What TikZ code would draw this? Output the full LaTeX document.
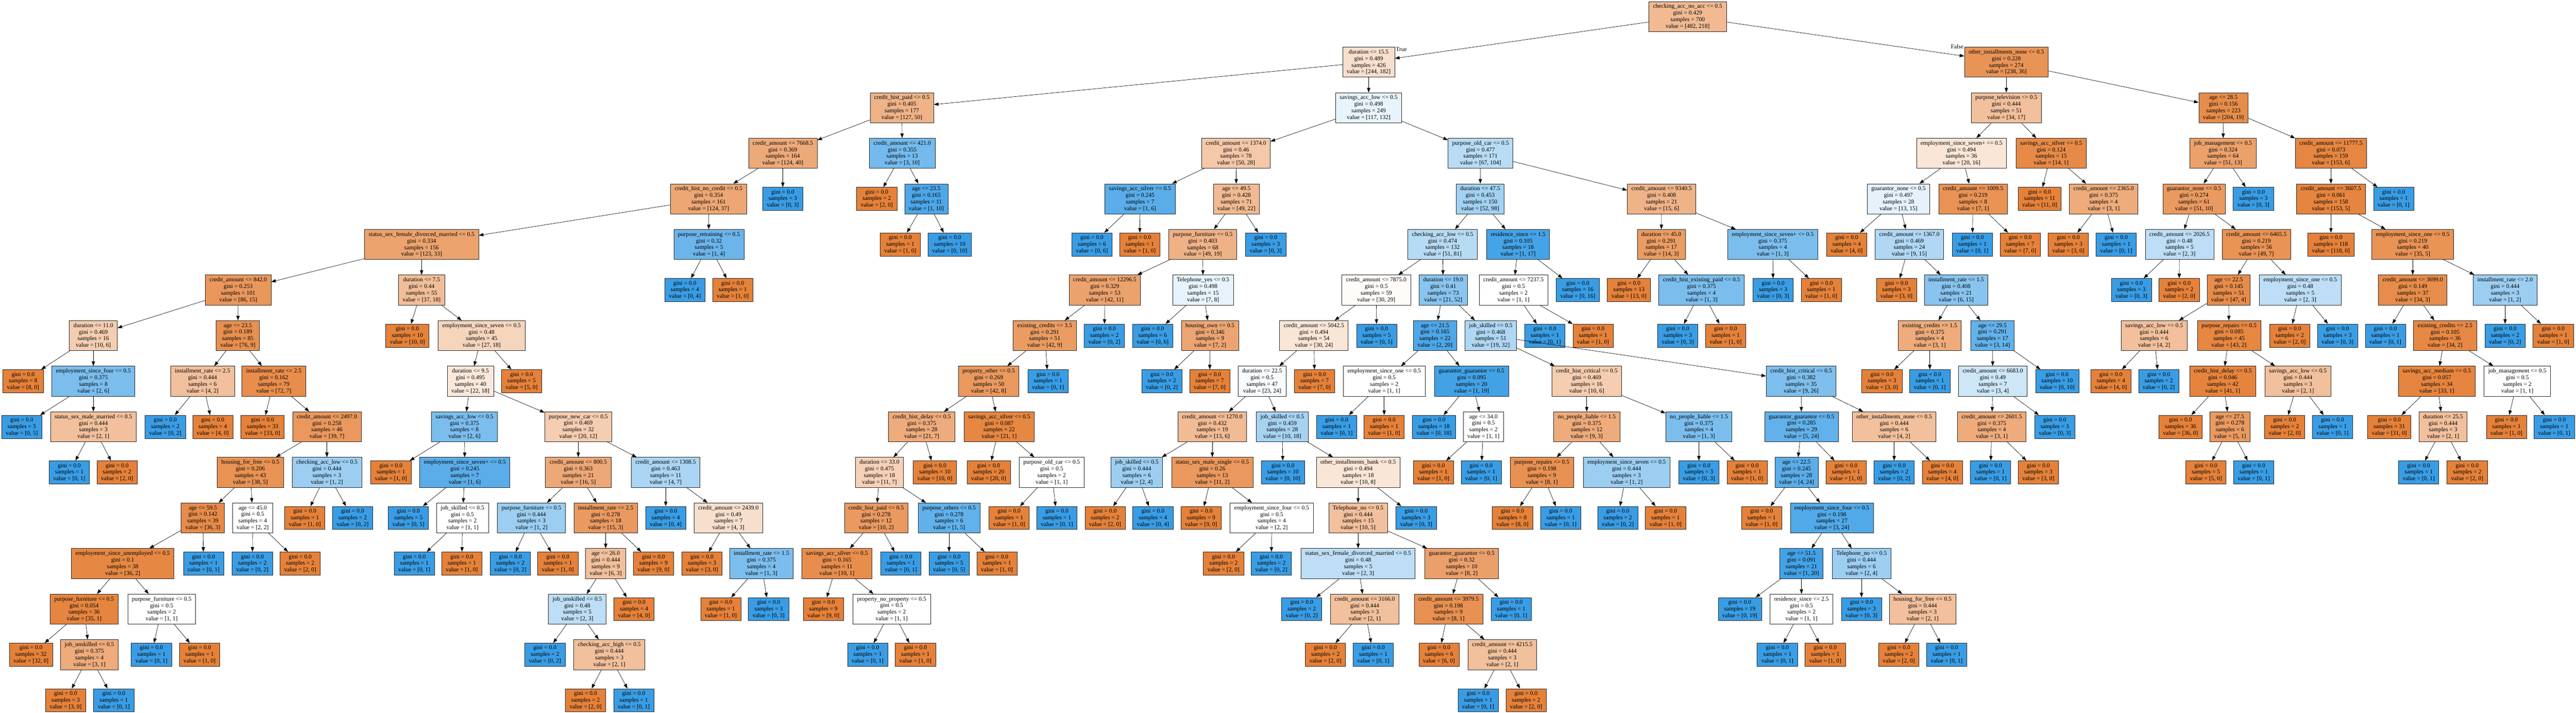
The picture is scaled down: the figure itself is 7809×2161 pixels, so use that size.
\documentclass[tikz,border=0pt]{standalone}
\usepackage{fontspec}
\setmainfont{Liberation Serif}
\usetikzlibrary{arrows.meta}
\definecolor{ocol}{RGB}{229,129,57}
\definecolor{bcol}{RGB}{57,157,229}
\newcommand\tsetfill[2]{%
  \ifnum#1<#2\relax
    \pgfmathsetmacro\tpct{(#2-#1)/#2*100}\def\tcol{bcol}%
  \else
    \pgfmathsetmacro\tpct{(#1-#2)/#1*100}\def\tcol{ocol}%
  \fi
  \colorlet{tfill}{\tcol!\tpct!white}}
\newcommand\tnode[8]{%
  \tsetfill{#7}{#8}%
  \node[tbox,fill=tfill,minimum height=91pt] (#1) at (#2,{50+138.2*#3}) {#4\\gini = #5\\samples = #6\\value = [#7, #8]};}
\newcommand\tleaf[6]{%
  \tsetfill{#5}{#6}%
  \node[tbox,fill=tfill,minimum height=70pt] (#1) at (#2,{50+138.2*#3}) {gini = 0.0\\samples = #4\\value = [#5, #6]};}
\begin{document}
\begin{tikzpicture}[x=1pt,y=-1pt,
  tbox/.style={draw=black!85,line width=1pt,align=center,inner xsep=12.5pt,inner ysep=4pt,font=\fontsize{18}{20}\selectfont},
  tlabel/.style={inner sep=0pt,font=\fontsize{18}{20}\selectfont},
  tarrow/.style={-{Triangle[length=14pt,width=10pt]},line width=1pt}]
\fill[white] (0,0) rectangle (7809,2161);
\useasboundingbox (0,0) rectangle (7809,2161);
% level 0-2
\tnode{R}{5116}{0}{checking\_acc\_no\_acc <= 0.5}{0.429}{700}{482}{218}
\tnode{A}{4149}{1}{duration <= 15.5}{0.489}{426}{244}{182}
\tnode{B}{6082}{1}{other\_installments\_none <= 0.5}{0.228}{274}{238}{36}
\tnode{A1}{2734}{2}{credit\_hist\_paid <= 0.5}{0.405}{177}{127}{50}
\tnode{A2}{4149}{2}{savings\_acc\_low <= 0.5}{0.498}{249}{117}{132}
\tnode{A11}{2373}{3}{credit\_amount <= 7668.5}{0.369}{164}{124}{40}
\tnode{A12}{2735}{3}{credit\_amount <= 421.0}{0.355}{13}{3}{10}
\tnode{A111}{2148}{4}{credit\_hist\_no\_credit <= 0.5}{0.354}{161}{124}{37}
\tleaf{A112}{2373}{4}{3}{0}{3}
\tnode{C1}{1278}{5}{status\_sex\_female\_divorced\_married <= 0.5}{0.334}{156}{123}{33}
\tnode{C2}{2149}{5}{purpose\_retraining <= 0.5}{0.32}{5}{1}{4}
\tleaf{C2a}{2076}{6}{4}{0}{4}
\tleaf{C2b}{2221}{6}{1}{1}{0}
\tnode{D1}{722}{6}{credit\_amount <= 842.0}{0.253}{101}{86}{15}
\tnode{D2}{1278}{6}{duration <= 7.5}{0.44}{55}{37}{18}
\tnode{E1}{283}{7}{duration <= 11.0}{0.469}{16}{10}{6}
\tnode{E2}{721}{7}{age <= 23.5}{0.189}{85}{76}{9}
\tleaf{E1a}{70}{8}{8}{8}{0}
\tnode{F1}{283}{8}{employment\_since\_four <= 0.5}{0.375}{8}{2}{6}
\tleaf{F1a}{66}{9}{5}{0}{5}
\tnode{F2}{283}{9}{status\_sex\_male\_married <= 0.5}{0.444}{3}{2}{1}
\tleaf{F2a}{210}{10}{1}{0}{1}
\tleaf{F2b}{355}{10}{2}{2}{0}
\tnode{G1}{614}{8}{installment\_rate <= 2.5}{0.444}{6}{4}{2}
\tnode{G2}{830}{8}{installment\_rate <= 2.5}{0.162}{79}{72}{7}
\tleaf{G1a}{501}{9}{2}{0}{2}
\tleaf{G1b}{645}{9}{4}{4}{0}
\tleaf{G2a}{796}{9}{33}{33}{0}
\tnode{H1}{991}{9}{credit\_amount <= 2497.0}{0.258}{46}{39}{7}
\tnode{I1}{759}{10}{housing\_for\_free <= 0.5}{0.206}{43}{38}{5}
\tnode{I2}{991}{10}{checking\_acc\_low <= 0.5}{0.444}{3}{1}{2}
\tleaf{I2a}{924}{11}{1}{1}{0}
\tleaf{I2b}{1069}{11}{2}{0}{2}
\tnode{J1}{615}{11}{age <= 59.5}{0.142}{39}{36}{3}
\tnode{J2}{766}{11}{age <= 45.0}{0.5}{4}{2}{2}
\tleaf{J2a}{765}{12}{2}{0}{2}
\tleaf{J2b}{910}{12}{2}{2}{0}
\tnode{K1}{372}{12}{employment\_since\_unemployed <= 0.5}{0.1}{38}{36}{2}
\tleaf{J1b}{617}{12}{1}{0}{1}
\tnode{K11}{255}{13}{purpose\_furniture <= 0.5}{0.054}{36}{35}{1}
\tnode{K12}{490}{13}{purpose\_furniture <= 0.5}{0.5}{2}{1}{1}
\tleaf{K11a}{94}{14}{32}{32}{0}
\tnode{K111}{271}{14}{job\_unskilled <= 0.5}{0.375}{4}{3}{1}
\tleaf{K111a}{199}{15}{3}{3}{0}
\tleaf{K111b}{345}{15}{1}{0}{1}
\tleaf{K12a}{459}{14}{1}{0}{1}
\tleaf{K12b}{605}{14}{1}{1}{0}
\tleaf{D2a}{1235}{7}{10}{10}{0}
\tnode{M1}{1460}{7}{employment\_since\_seven <= 0.5}{0.48}{45}{27}{18}
\tnode{M11}{1426}{8}{duration <= 9.5}{0.495}{40}{22}{18}
\tleaf{M1b}{1581}{8}{5}{5}{0}
\tnode{N1}{1408}{9}{savings\_acc\_low <= 0.5}{0.375}{8}{2}{6}
\tnode{N2}{1753}{9}{purpose\_new\_car <= 0.5}{0.469}{32}{20}{12}
\tleaf{N1a}{1185}{10}{1}{1}{0}
\tnode{N11}{1409}{10}{employment\_since\_seven+ <= 0.5}{0.245}{7}{1}{6}
\tleaf{N11a}{1238}{11}{5}{0}{5}
\tnode{N111}{1402}{11}{job\_skilled <= 0.5}{0.5}{2}{1}{1}
\tleaf{N111a}{1256}{12}{1}{0}{1}
\tleaf{N111b}{1400}{12}{1}{1}{0}
\tnode{O1}{1753}{10}{credit\_amount <= 800.5}{0.363}{21}{16}{5}
\tnode{O2}{2018}{10}{credit\_amount <= 1308.5}{0.463}{11}{4}{7}
\tnode{O11}{1611}{11}{purpose\_furniture <= 0.5}{0.444}{3}{1}{2}
\tnode{O12}{1836}{11}{installment\_rate <= 2.5}{0.278}{18}{15}{3}
\tleaf{O11a}{1547}{12}{2}{0}{2}
\tleaf{O11b}{1691}{12}{1}{1}{0}
\tnode{O121}{1836}{12}{age <= 26.0}{0.444}{9}{6}{3}
\tleaf{O12b}{1981}{12}{9}{9}{0}
\tnode{O1211}{1750}{13}{job\_unskilled <= 0.5}{0.48}{5}{2}{3}
\tleaf{O121b}{1922}{13}{4}{4}{0}
\tleaf{O1211a}{1652}{14}{2}{0}{2}
\tnode{O12111}{1847}{14}{checking\_acc\_high <= 0.5}{0.444}{3}{2}{1}
\tleaf{O12111a}{1775}{15}{2}{2}{0}
\tleaf{O12111b}{1921}{15}{1}{0}{1}
\tleaf{O2a}{2018}{11}{4}{0}{4}
\tnode{O21}{2208}{11}{credit\_amount <= 2439.0}{0.49}{7}{4}{3}
\tleaf{O21a}{2128}{12}{3}{3}{0}
\tnode{O211}{2308}{12}{installment\_rate <= 1.5}{0.375}{4}{1}{3}
\tleaf{O211a}{2185}{13}{1}{1}{0}
\tleaf{O211b}{2330}{13}{3}{0}{3}
\tleaf{A12a}{2658}{4}{2}{2}{0}
\tnode{P1}{2808}{4}{age <= 23.5}{0.165}{11}{1}{10}
\tleaf{P1a}{2729}{5}{1}{1}{0}
\tleaf{P1b}{2879}{5}{10}{0}{10}
\tnode{Q1}{3747}{3}{credit\_amount <= 1374.0}{0.46}{78}{50}{28}
\tnode{Q2}{4488}{3}{purpose\_old\_car <= 0.5}{0.477}{171}{67}{104}
\tnode{Q11}{3456}{4}{savings\_acc\_silver <= 0.5}{0.245}{7}{1}{6}
\tnode{Q12}{3748}{4}{age <= 49.5}{0.428}{71}{49}{22}
\tleaf{Q11a}{3310}{5}{6}{0}{6}
\tleaf{Q11b}{3455}{5}{1}{1}{0}
\tnode{Q121}{3646}{5}{purpose\_furniture <= 0.5}{0.403}{68}{49}{19}
\tleaf{Q12b}{3837}{5}{3}{0}{3}
\tnode{R1n}{3349}{6}{credit\_amount <= 12296.5}{0.329}{53}{42}{11}
\tnode{R2n}{3647}{6}{Telephone\_yes <= 0.5}{0.498}{15}{7}{8}
\tnode{R11}{3167}{7}{existing\_credits <= 3.5}{0.291}{51}{42}{9}
\tleaf{R1b}{3348}{7}{2}{0}{2}
\tnode{R111}{2997}{8}{property\_other <= 0.5}{0.269}{50}{42}{8}
\tleaf{R11b}{3177}{8}{1}{0}{1}
\tnode{S1}{2794}{9}{credit\_hist\_delay <= 0.5}{0.375}{28}{21}{7}
\tnode{S2}{3029}{9}{savings\_acc\_silver <= 0.5}{0.087}{22}{21}{1}
\tnode{S11}{2666}{10}{duration <= 33.0}{0.475}{18}{11}{7}
\tleaf{S1b}{2834}{10}{10}{10}{0}
\tnode{S111}{2656}{11}{credit\_hist\_paid <= 0.5}{0.278}{12}{10}{2}
\tnode{S112}{2877}{11}{purpose\_others <= 0.5}{0.278}{6}{1}{5}
\tnode{S1111}{2537}{12}{savings\_acc\_silver <= 0.5}{0.165}{11}{10}{1}
\tleaf{S111b}{2731}{12}{1}{0}{1}
\tleaf{S1111a}{2496}{13}{9}{9}{0}
\tnode{S11111}{2703}{13}{property\_no\_property <= 0.5}{0.5}{2}{1}{1}
\tleaf{S11111a}{2630}{14}{1}{0}{1}
\tleaf{S11111b}{2775}{14}{1}{1}{0}
\tleaf{S112a}{2877}{12}{5}{0}{5}
\tleaf{S112b}{3022}{12}{1}{1}{0}
\tleaf{S2a}{2997}{10}{20}{20}{0}
\tnode{S21}{3188}{10}{purpose\_old\_car <= 0.5}{0.5}{2}{1}{1}
\tleaf{S21a}{3059}{11}{1}{1}{0}
\tleaf{S21b}{3204}{11}{1}{0}{1}
\tleaf{R2a}{3494}{7}{6}{0}{6}
\tnode{R21}{3668}{7}{housing\_own <= 0.5}{0.346}{9}{7}{2}
\tleaf{R21a}{3522}{8}{2}{0}{2}
\tleaf{R21b}{3667}{8}{7}{7}{0}
\tnode{T1}{4487}{4}{duration <= 47.5}{0.453}{150}{52}{98}
\tnode{T2}{5037}{4}{credit\_amount <= 9340.5}{0.408}{21}{15}{6}
\tnode{T11}{4373}{5}{checking\_acc\_low <= 0.5}{0.474}{132}{51}{81}
\tnode{T12}{4602}{5}{residence\_since <= 1.5}{0.105}{18}{1}{17}
\tnode{U1}{4172}{6}{credit\_amount <= 7875.0}{0.5}{59}{30}{29}
\tnode{U2}{4375}{6}{duration <= 19.0}{0.41}{73}{21}{52}
\tnode{U11}{3983}{7}{credit\_amount <= 5042.5}{0.494}{54}{30}{24}
\tleaf{U1b}{4173}{7}{5}{0}{5}
\tnode{U111}{3826}{8}{duration <= 22.5}{0.5}{47}{23}{24}
\tleaf{U11b}{3985}{8}{7}{7}{0}
\tnode{V1}{3675}{9}{credit\_amount <= 1270.0}{0.432}{19}{13}{6}
\tnode{V2}{3887}{9}{job\_skilled <= 0.5}{0.459}{28}{10}{18}
\tnode{V11}{3446}{10}{job\_skilled <= 0.5}{0.444}{6}{2}{4}
\tnode{V12}{3675}{10}{status\_sex\_male\_single <= 0.5}{0.26}{13}{11}{2}
\tleaf{V11a}{3350}{11}{2}{2}{0}
\tleaf{V11b}{3495}{11}{4}{0}{4}
\tleaf{V12a}{3641}{11}{9}{9}{0}
\tnode{V121}{3855}{11}{employment\_since\_four <= 0.5}{0.5}{4}{2}{2}
\tleaf{V121a}{3709}{12}{2}{2}{0}
\tleaf{V121b}{3854}{12}{2}{0}{2}
\tleaf{V2a}{3889}{10}{10}{0}{10}
\tnode{V21}{4117}{10}{other\_installments\_bank <= 0.5}{0.494}{18}{10}{8}
\tnode{V211}{4117}{11}{Telephone\_no <= 0.5}{0.444}{15}{10}{5}
\tleaf{V21b}{4293}{11}{3}{0}{3}
\tnode{V2111}{4117}{12}{status\_sex\_female\_divorced\_married <= 0.5}{0.48}{5}{2}{3}
\tnode{V2112}{4431}{12}{guarantor\_guarantor <= 0.5}{0.32}{10}{8}{2}
\tleaf{V2111a}{3946}{13}{2}{0}{2}
\tnode{W1}{4137}{13}{credit\_amount <= 3166.0}{0.444}{3}{2}{1}
\tleaf{W1a}{4018}{14}{2}{2}{0}
\tleaf{W1b}{4163}{14}{1}{0}{1}
\tnode{W2}{4391}{13}{credit\_amount <= 3979.5}{0.198}{9}{8}{1}
\tleaf{V2112b}{4581}{13}{1}{0}{1}
\tleaf{W2a}{4362}{14}{6}{6}{0}
\tnode{W21}{4554}{14}{credit\_amount <= 4215.5}{0.444}{3}{2}{1}
\tleaf{W21a}{4481}{15}{1}{0}{1}
\tleaf{W21b}{4626}{15}{2}{2}{0}
\tnode{X1}{4350}{7}{age <= 21.5}{0.165}{22}{2}{20}
\tnode{X2}{4519}{7}{job\_skilled <= 0.5}{0.468}{51}{19}{32}
\tnode{X11}{4196}{8}{employment\_since\_one <= 0.5}{0.5}{2}{1}{1}
\tnode{X12}{4461}{8}{guarantor\_guarantor <= 0.5}{0.095}{20}{1}{19}
\tleaf{X11a}{4052}{9}{1}{0}{1}
\tleaf{X11b}{4196}{9}{1}{1}{0}
\tleaf{X12a}{4347}{9}{18}{0}{18}
\tnode{X121}{4497}{9}{age <= 34.0}{0.5}{2}{1}{1}
\tleaf{X121a}{4345}{10}{1}{1}{0}
\tleaf{X121b}{4490}{10}{1}{0}{1}
\tnode{Y1}{4810}{8}{credit\_hist\_critical <= 0.5}{0.469}{16}{10}{6}
\tnode{Y2}{5460}{8}{credit\_hist\_critical <= 0.5}{0.382}{35}{9}{26}
\tnode{Y11}{4810}{9}{no\_people\_liable <= 1.5}{0.375}{12}{9}{3}
\tnode{Y12}{5150}{9}{no\_people\_liable <= 1.5}{0.375}{4}{1}{3}
\tnode{Y111}{4674}{10}{purpose\_repairs <= 0.5}{0.198}{9}{8}{1}
\tnode{Y112}{4931}{10}{employment\_since\_seven <= 0.5}{0.444}{3}{1}{2}
\tleaf{Y111a}{4585}{11}{8}{8}{0}
\tleaf{Y111b}{4731}{11}{1}{0}{1}
\tleaf{Y112a}{4904}{11}{2}{0}{2}
\tleaf{Y112b}{5049}{11}{1}{1}{0}
\tleaf{Y12a}{5150}{10}{3}{0}{3}
\tleaf{Y12b}{5296}{10}{1}{1}{0}
\tnode{Y21}{5461}{9}{guarantor\_guarantor <= 0.5}{0.285}{29}{5}{24}
\tnode{Y22}{5742}{9}{other\_installments\_none <= 0.5}{0.444}{6}{4}{2}
\tnode{Y211}{5446}{10}{age <= 22.5}{0.245}{28}{4}{24}
\tleaf{Y21b}{5596}{10}{1}{1}{0}
\tleaf{Y211a}{5340}{11}{1}{1}{0}
\tnode{Y2111}{5553}{11}{employment\_since\_four <= 0.5}{0.198}{27}{3}{24}
\tnode{Y21111}{5461}{12}{age <= 51.5}{0.091}{21}{1}{20}
\tnode{Y21112}{5643}{12}{Telephone\_no <= 0.5}{0.444}{6}{2}{4}
\tleaf{Y21111a}{5274}{13}{19}{0}{19}
\tnode{Z1}{5461}{13}{residence\_since <= 2.5}{0.5}{2}{1}{1}
\tleaf{Z1a}{5388}{14}{1}{0}{1}
\tleaf{Z1b}{5533}{14}{1}{1}{0}
\tleaf{Y21112a}{5643}{13}{3}{0}{3}
\tnode{Z2}{5828}{13}{housing\_for\_free <= 0.5}{0.444}{3}{2}{1}
\tleaf{Z2a}{5756}{14}{2}{2}{0}
\tleaf{Z2b}{5901}{14}{1}{0}{1}
\tleaf{Y22a}{5742}{10}{2}{0}{2}
\tleaf{Y22b}{5888}{10}{4}{4}{0}
\tnode{AA1}{4588}{6}{credit\_amount <= 7237.5}{0.5}{2}{1}{1}
\tleaf{T12b}{4783}{6}{16}{0}{16}
\tleaf{AA1a}{4683}{7}{1}{0}{1}
\tleaf{AA1b}{4829}{7}{1}{1}{0}
\tnode{AB1}{5036}{5}{duration <= 45.0}{0.291}{17}{14}{3}
\tnode{AB2}{5374}{5}{employment\_since\_seven+ <= 0.5}{0.375}{4}{1}{3}
\tleaf{AB1a}{4938}{6}{13}{13}{0}
\tnode{AB11}{5158}{6}{credit\_hist\_existing\_paid <= 0.5}{0.375}{4}{1}{3}
\tleaf{AB11a}{5086}{7}{3}{0}{3}
\tleaf{AB11b}{5231}{7}{1}{1}{0}
\tleaf{AB2a}{5375}{6}{3}{0}{3}
\tleaf{AB2b}{5521}{6}{1}{1}{0}
\tnode{B1}{6082}{2}{purpose\_television <= 0.5}{0.444}{51}{34}{17}
\tnode{B2}{6740}{2}{age <= 28.5}{0.156}{223}{204}{19}
\tnode{B11}{5946}{3}{employment\_since\_seven+ <= 0.5}{0.494}{36}{20}{16}
\tnode{B12}{6218}{3}{savings\_acc\_silver <= 0.5}{0.124}{15}{14}{1}
\tnode{B111}{5755}{4}{guarantor\_none <= 0.5}{0.497}{28}{13}{15}
\tnode{B112}{5981}{4}{credit\_amount <= 1009.5}{0.219}{8}{7}{1}
\tleaf{B111a}{5598}{5}{4}{4}{0}
\tnode{B1111}{5788}{5}{credit\_amount <= 1367.0}{0.469}{24}{9}{15}
\tleaf{B1111a}{5749}{6}{3}{3}{0}
\tnode{B11111}{5930}{6}{installment\_rate <= 1.5}{0.408}{21}{6}{15}
\tnode{BA}{5850}{7}{existing\_credits <= 1.5}{0.375}{4}{3}{1}
\tnode{BB}{6040}{7}{age <= 29.5}{0.291}{17}{3}{14}
\tleaf{BAa}{5705}{8}{3}{3}{0}
\tleaf{BAb}{5850}{8}{1}{0}{1}
\tnode{BB1}{6041}{8}{credit\_amount <= 6683.0}{0.49}{7}{3}{4}
\tleaf{BBb}{6236}{8}{10}{0}{10}
\tnode{BB11}{6038}{9}{credit\_amount <= 2601.5}{0.375}{4}{3}{1}
\tleaf{BB1b}{6229}{9}{3}{0}{3}
\tleaf{BB11a}{6034}{10}{1}{0}{1}
\tleaf{BB11b}{6179}{10}{3}{3}{0}
\tleaf{B112a}{5979}{5}{1}{0}{1}
\tleaf{B112b}{6124}{5}{7}{7}{0}
\tleaf{B12a}{6183}{4}{11}{11}{0}
\tnode{B121}{6377}{4}{credit\_amount <= 2365.0}{0.375}{4}{3}{1}
\tleaf{B121a}{6270}{5}{3}{3}{0}
\tleaf{B121b}{6415}{5}{1}{0}{1}
\tnode{B21}{6739}{3}{job\_management <= 0.5}{0.324}{64}{51}{13}
\tnode{B22}{7066}{3}{credit\_amount <= 11777.5}{0.073}{159}{153}{6}
\tnode{B211}{6651}{4}{guarantor\_none <= 0.5}{0.274}{61}{51}{10}
\tleaf{B21b}{6831}{4}{3}{0}{3}
\tnode{B2111}{6607}{5}{credit\_amount <= 2026.5}{0.48}{5}{2}{3}
\tnode{B2112}{6840}{5}{credit\_amount <= 6465.5}{0.219}{56}{49}{7}
\tleaf{B2111a}{6461}{6}{3}{0}{3}
\tleaf{B2111b}{6606}{6}{2}{2}{0}
\tnode{C21}{6756}{6}{age <= 22.5}{0.145}{51}{47}{4}
\tnode{C22}{6973}{6}{employment\_since\_one <= 0.5}{0.48}{5}{2}{3}
\tleaf{C22a}{6941}{7}{2}{2}{0}
\tleaf{C22b}{7086}{7}{3}{0}{3}
\tnode{C211}{6530}{7}{savings\_acc\_low <= 0.5}{0.444}{6}{4}{2}
\tnode{C212}{6757}{7}{purpose\_repairs <= 0.5}{0.085}{45}{43}{2}
\tleaf{C211a}{6399}{8}{4}{4}{0}
\tleaf{C211b}{6544}{8}{2}{0}{2}
\tnode{C2121}{6738}{8}{credit\_hist\_delay <= 0.5}{0.046}{42}{41}{1}
\tnode{C2122}{6966}{8}{savings\_acc\_low <= 0.5}{0.444}{3}{2}{1}
\tleaf{C2121a}{6610}{9}{36}{36}{0}
\tnode{C21211}{6760}{9}{age <= 27.5}{0.278}{6}{5}{1}
\tleaf{C21211a}{6687}{10}{5}{5}{0}
\tleaf{C21211b}{6832}{10}{1}{0}{1}
\tleaf{C2122a}{6926}{9}{2}{2}{0}
\tleaf{C2122b}{7071}{9}{1}{0}{1}
\tnode{B221}{7066}{4}{credit\_amount <= 3607.5}{0.061}{158}{153}{5}
\tleaf{B22b}{7256}{4}{1}{0}{1}
\tleaf{B221a}{7066}{5}{118}{118}{0}
\tnode{B2211}{7314}{5}{employment\_since\_one <= 0.5}{0.219}{40}{35}{5}
\tnode{D21}{7314}{6}{credit\_amount <= 3699.0}{0.149}{37}{34}{3}
\tnode{D22}{7594}{6}{installment\_rate <= 2.0}{0.444}{3}{1}{2}
\tleaf{D21a}{7231}{7}{1}{0}{1}
\tnode{D211}{7412}{7}{existing\_credits <= 2.5}{0.105}{36}{34}{2}
\tnode{D2111}{7387}{8}{savings\_acc\_medium <= 0.5}{0.057}{34}{33}{1}
\tnode{D2112}{7631}{8}{job\_management <= 0.5}{0.5}{2}{1}{1}
\tleaf{D2111a}{7243}{9}{31}{31}{0}
\tnode{D21111}{7406}{9}{duration <= 25.5}{0.444}{3}{2}{1}
\tleaf{D21111a}{7332}{10}{1}{0}{1}
\tleaf{D21111b}{7479}{10}{2}{2}{0}
\tleaf{D2112a}{7598}{9}{1}{1}{0}
\tleaf{D2112b}{7743}{9}{1}{0}{1}
\tleaf{D22a}{7594}{7}{2}{0}{2}
\tleaf{D22b}{7740}{7}{1}{1}{0}
% edge labels
\node[tlabel] (truelbl) at (4248,149) {True};
\node[tlabel] (falselbl) at (5933,142) {False};
% edges
\foreach \p/\c in {R/A,R/B,A/A1,A/A2,A1/A11,A1/A12,A11/A111,A11/A112,A111/C1,A111/C2,C2/C2a,C2/C2b,
 C1/D1,C1/D2,D1/E1,D1/E2,E1/E1a,E1/F1,F1/F1a,F1/F2,F2/F2a,F2/F2b,E2/G1,E2/G2,G1/G1a,G1/G1b,G2/G2a,G2/H1,
 H1/I1,H1/I2,I2/I2a,I2/I2b,I1/J1,I1/J2,J2/J2a,J2/J2b,J1/K1,J1/J1b,K1/K11,K1/K12,K11/K11a,K11/K111,
 K111/K111a,K111/K111b,K12/K12a,K12/K12b,D2/D2a,D2/M1,M1/M11,M1/M1b,M11/N1,M11/N2,N1/N1a,N1/N11,
 N11/N11a,N11/N111,N111/N111a,N111/N111b,N2/O1,N2/O2,O1/O11,O1/O12,O11/O11a,O11/O11b,O12/O121,O12/O12b,
 O121/O1211,O121/O121b,O1211/O1211a,O1211/O12111,O12111/O12111a,O12111/O12111b,O2/O2a,O2/O21,
 O21/O21a,O21/O211,O211/O211a,O211/O211b,A12/A12a,A12/P1,P1/P1a,P1/P1b,A2/Q1,A2/Q2,Q1/Q11,Q1/Q12,
 Q11/Q11a,Q11/Q11b,Q12/Q121,Q12/Q12b,Q121/R1n,Q121/R2n,R1n/R11,R1n/R1b,R11/R111,R11/R11b,R111/S1,R111/S2,
 S1/S11,S1/S1b,S11/S111,S11/S112,S111/S1111,S111/S111b,S1111/S1111a,S1111/S11111,S11111/S11111a,
 S11111/S11111b,S112/S112a,S112/S112b,S2/S2a,S2/S21,S21/S21a,S21/S21b,R2n/R2a,R2n/R21,R21/R21a,R21/R21b,
 Q2/T1,Q2/T2,T1/T11,T1/T12,T11/U1,T11/U2,U1/U11,U1/U1b,U11/U111,U11/U11b,U111/V1,U111/V2,V1/V11,V1/V12,
 V11/V11a,V11/V11b,V12/V12a,V12/V121,V121/V121a,V121/V121b,V2/V2a,V2/V21,V21/V211,V21/V21b,
 V211/V2111,V211/V2112,V2111/V2111a,V2111/W1,W1/W1a,W1/W1b,V2112/W2,V2112/V2112b,W2/W2a,W2/W21,
 W21/W21a,W21/W21b,U2/X1,U2/X2,X1/X11,X1/X12,X11/X11a,X11/X11b,X12/X12a,X12/X121,X121/X121a,X121/X121b,
 X2/Y1,X2/Y2,Y1/Y11,Y1/Y12,Y11/Y111,Y11/Y112,Y111/Y111a,Y111/Y111b,Y112/Y112a,Y112/Y112b,Y12/Y12a,Y12/Y12b,
 Y2/Y21,Y2/Y22,Y21/Y211,Y21/Y21b,Y211/Y211a,Y211/Y2111,Y2111/Y21111,Y2111/Y21112,Y21111/Y21111a,
 Y21111/Z1,Z1/Z1a,Z1/Z1b,Y21112/Y21112a,Y21112/Z2,Z2/Z2a,Z2/Z2b,Y22/Y22a,Y22/Y22b,T12/AA1,T12/T12b,
 AA1/AA1a,AA1/AA1b,T2/AB1,T2/AB2,AB1/AB1a,AB1/AB11,AB11/AB11a,AB11/AB11b,AB2/AB2a,AB2/AB2b,
 B/B1,B/B2,B1/B11,B1/B12,B11/B111,B11/B112,B111/B111a,B111/B1111,B1111/B1111a,B1111/B11111,
 B11111/BA,B11111/BB,BA/BAa,BA/BAb,BB/BB1,BB/BBb,BB1/BB11,BB1/BB1b,BB11/BB11a,BB11/BB11b,
 B112/B112a,B112/B112b,B12/B12a,B12/B121,B121/B121a,B121/B121b,B2/B21,B2/B22,B21/B211,B21/B21b,
 B211/B2111,B211/B2112,B2111/B2111a,B2111/B2111b,B2112/C21,B2112/C22,C22/C22a,C22/C22b,C21/C211,C21/C212,
 C211/C211a,C211/C211b,C212/C2121,C212/C2122,C2121/C2121a,C2121/C21211,C21211/C21211a,C21211/C21211b,
 C2122/C2122a,C2122/C2122b,B22/B221,B22/B22b,B221/B221a,B221/B2211,B2211/D21,B2211/D22,D21/D21a,D21/D211,
 D211/D2111,D211/D2112,D2111/D2111a,D2111/D21111,D21111/D21111a,D21111/D21111b,D2112/D2112a,D2112/D2112b,
 D22/D22a,D22/D22b}
 \draw[tarrow] (\p) -- (\c);
\end{tikzpicture}
\end{document}
